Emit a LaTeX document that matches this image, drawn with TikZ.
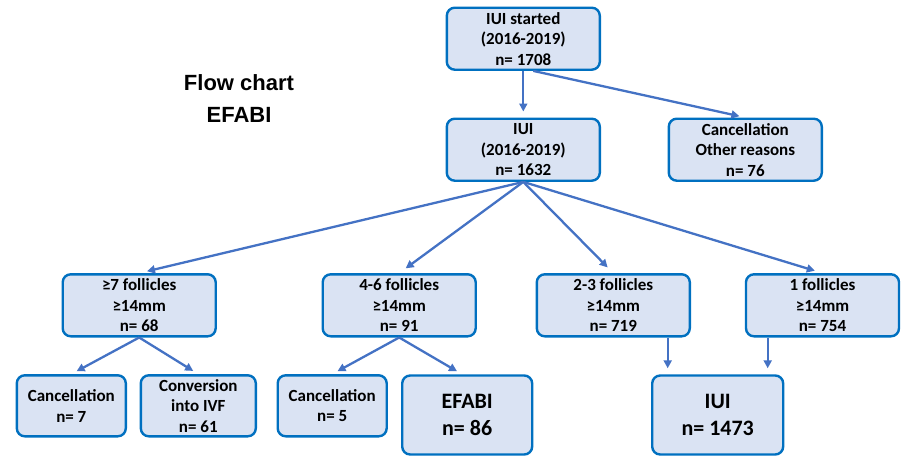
\documentclass[tikz,border=0pt]{standalone}
\usepackage{fontspec}
\setmainfont{Carlito}
\newfontfamily\titlefont{Liberation Sans}
\usetikzlibrary{arrows.meta}
\definecolor{boxfill}{HTML}{DAE3F3}
\definecolor{boxline}{RGB}{0,112,192}
\definecolor{flowline}{RGB}{68,114,196}
\tikzset{
  box/.style={draw=boxline, fill=boxfill, line width=2.4pt, rounded corners=8pt,
    align=center, inner sep=0pt, minimum width=153pt, minimum height=62pt,
    font=\fontsize{17}{20.5}\selectfont\bfseries},
  smallbox/.style={box, minimum width=109pt, minimum height=61pt},
  bigbox/.style={box, minimum width=130pt, minimum height=79pt,
    font=\fontsize{22}{27}\selectfont\bfseries},
  flow/.style={draw=flowline, line width=2.3pt, -{Triangle[length=8pt,width=8pt]}, shorten >=6pt}
}
\begin{document}
\begin{tikzpicture}[x=1pt, y=-1pt]
  \useasboundingbox (0,0) rectangle (903,458);
  % Title
  \node[font=\titlefont\fontsize{22}{32}\selectfont\bfseries, align=center] (title) at (239,99) {Flow chart\\EFABI};
  % Top
  \node[box] (start) at (523.3,38.7) {IUI started\\(2016-2019)\\n= 1708};
  \node[box] (iui) at (523.3,149.7) {IUI\\(2016-2019)\\n= 1632};
  \node[box] (cancelo) at (745.3,149.7) {Cancellation\\Other reasons\\n= 76};
  % Follicle groups
  \node[box] (fseven) at (139.2,305.3) {≥7 follicles\\≥14mm\\n= 68};
  \node[box] (ffour) at (399.2,305.3) {4-6 follicles\\≥14mm\\n= 91};
  \node[box] (ftwo) at (613.3,305.3) {2-3 follicles\\≥14mm\\n= 719};
  \node[box] (fone) at (822.5,305.3) {1 follicles\\≥14mm\\n= 754};
  % Outcomes
  \node[smallbox] (cseven) at (71.3,405.8) {Cancellation\\n= 7};
  \node[smallbox, minimum width=115pt] (conv) at (198.3,405.8) {Conversion\\into IVF\\n= 61};
  \node[smallbox] (cfive) at (332.2,405.8) {Cancellation\\n= 5};
  \node[bigbox] (efabi) at (467.2,415) {EFABI\\n= 86};
  \node[bigbox, minimum width=131pt] (iuiend) at (717.7,415) {IUI\\n= 1473};
  % Arrows
  \draw[flow] (start) -- (iui);
  \draw[flow] ([xshift=10pt]start.south) -- (cancelo.north);
  \draw[flow, shorten >=8pt] (iui.south) -- (fseven.north);
  \draw[flow, shorten >=8pt] (iui.south) -- (ffour.north);
  \draw[flow, shorten >=8pt] (iui.south) -- (ftwo.north);
  \draw[flow, shorten >=8pt] (iui.south) -- (fone.north);
  \draw[flow] (fseven.south) -- (cseven.north);
  \draw[flow] (fseven.south) -- (conv.north);
  \draw[flow] (ffour.south) -- (cfive.north);
  \draw[flow] (ffour.south) -- ([xshift=-5pt]efabi.north);
  \draw[flow] ([xshift=-50pt]iuiend.north |- ftwo.south) -- ([xshift=-50pt]iuiend.north);
  \draw[flow] ([xshift=50pt]iuiend.north |- fone.south) -- ([xshift=50pt]iuiend.north);
\end{tikzpicture}
\end{document}
